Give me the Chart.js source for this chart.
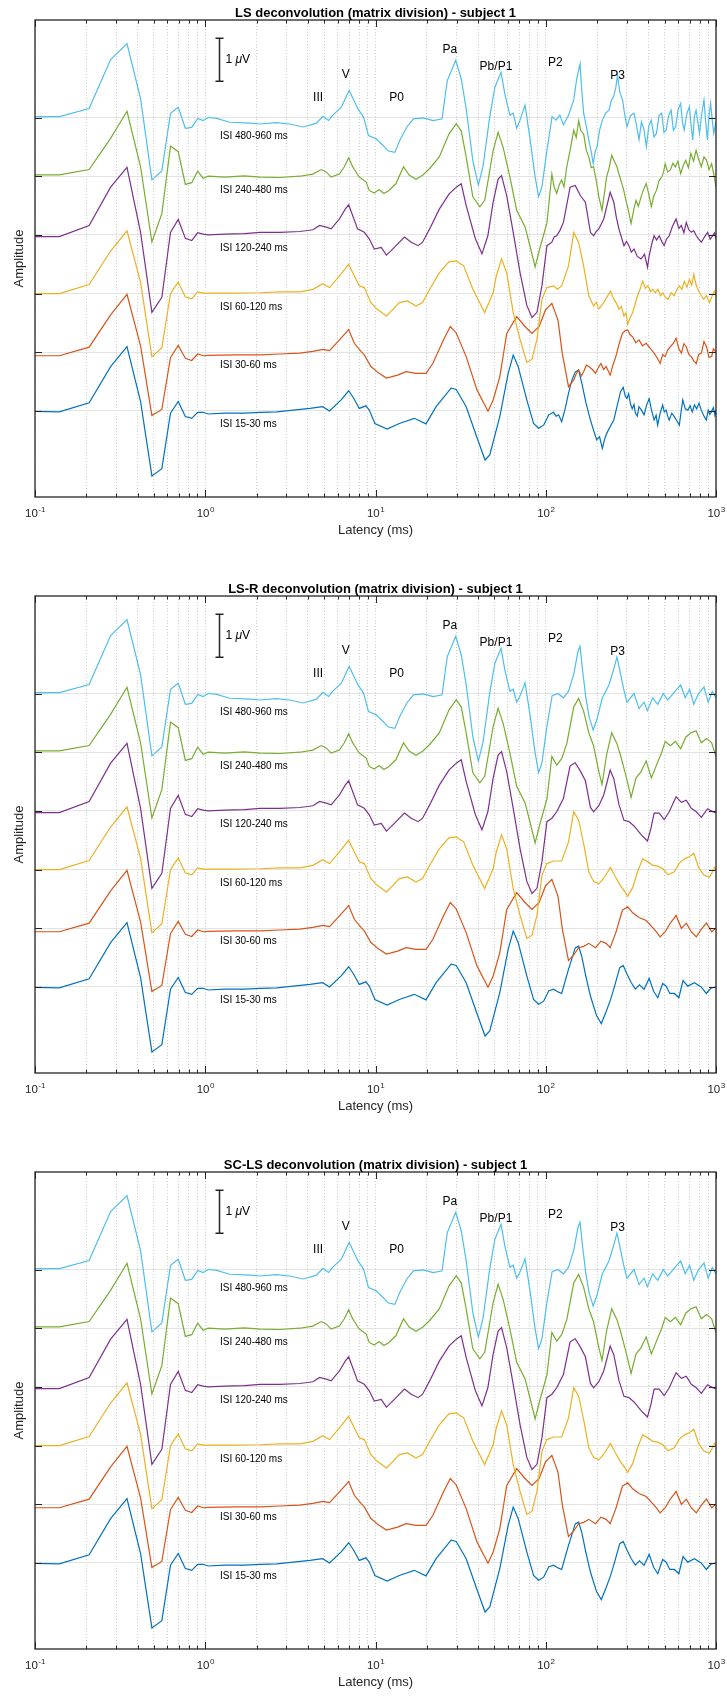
<!DOCTYPE html>
<html>
<head>
<meta charset="utf-8">
<title>Deconvolution AEP, subject 1</title>
<script src="https://cdn.jsdelivr.net/npm/chart.js@4.4.1/dist/chart.umd.min.js"></script>
<style>
  html, body { margin: 0; padding: 0; background: #fff; overflow: hidden; }
  .panel { position: absolute; left: 0; width: 727px; height: 545px; }
</style>
</head>
<body>
<div class="panel" style="top:0"><canvas id="panel1" width="727" height="545"></canvas></div>
<div class="panel" style="top:576px"><canvas id="panel2" width="727" height="545"></canvas></div>
<div class="panel" style="top:1152px"><canvas id="panel3" width="727" height="545"></canvas></div>
<script>
// [latency ms, amplitude uV] per ISI condition, LS deconvolution (noisy late part)
const isi15Ls = [[0.069,0],[0.139,-0.02],[0.208,0.19],[0.278,1.03],[0.347,1.5],[0.417,0.22],[0.486,-1.51],[0.556,-1.34],[0.625,-0.05],[0.694,0.22],[0.764,-0.13],[0.833,-0.17],[0.903,-0.03],[0.972,-0.03],[1.04,-0.07],[1.3,-0.05],[1.7,-0.05],[2.1,-0.03],[2.63,-0.02],[3.28,0.02],[4.12,0.06],[4.9,0.1],[5.37,0],[6.28,0.26],[6.96,0.47],[7.46,0.29],[8.03,0.06],[8.79,0.12],[9.19,0.02],[9.92,-0.29],[11.7,-0.42],[13.8,-0.29],[16.9,-0.17],[19.8,-0.3],[22.7,0.1],[27.8,0.53],[29.8,0.5],[34.1,0.1],[39.3,-0.6],[44,-1.14],[46.9,-1.02],[53.7,-0.13],[60.2,0.88],[64.4,1.3],[68.9,1.03],[77.4,0.26],[84.8,-0.29],[90.8,-0.4],[97.2,-0.33],[104,-0.09],[111,-0.03],[115,-0.12],[119,-0.09],[124,-0.25],[130,0.05],[136,0.41],[142,0.7],[149,0.91],[156,0.95],[163,0.64],[172,0.2],[183,-0.21],[191,-0.45],[199,-0.67],[207,-0.6],[215,-0.87],[222,-0.65],[228,-0.52],[240,-0.35],[251,-0.21],[262,0.1],[275,0.45],[285,0.55],[293,0.35],[300,0.29],[307,0.4],[314,0.18],[322,0.05],[330,0.15],[336,-0.05],[345,-0.12],[353,0.1],[365,0.02],[378,-0.09],[390,0.12],[405,0.29],[418,0.02],[433,-0.21],[445,-0.1],[454,-0.33],[470,-0.05],[486,0.14],[497,-0.02],[510,0.02],[520,-0.12],[531,-0.21],[550,-0.05],[569,-0.13],[588,-0.22],[609,-0.33],[622,-0.05],[638,0.26],[660,0.05],[683,0.02],[705,0.12],[725,-0.02],[747,0.14],[770,0.05],[795,0.18],[819,0.02],[845,-0.1],[877,-0.21],[900,0.02],[920,-0.08],[939,-0.02],[965,0.08],[985,-0.1],[1000,0.02]];
const isi30Ls = [[0.069,-0.08],[0.139,-0.08],[0.208,0.12],[0.278,0.87],[0.347,1.35],[0.417,0.15],[0.486,-1.47],[0.556,-1.33],[0.625,-0.12],[0.694,0.16],[0.764,-0.14],[0.833,-0.19],[0.903,-0.04],[0.972,-0.08],[1.04,-0.07],[1.5,-0.06],[2.1,-0.06],[2.74,-0.04],[3.59,-0.02],[4.29,0.02],[4.9,0.07],[5.37,0.04],[6.14,0.29],[6.96,0.53],[7.51,0.21],[8.22,0.02],[8.59,-0.06],[9.4,-0.33],[10.5,-0.49],[11.6,-0.6],[13.5,-0.53],[15.1,-0.45],[17.3,-0.49],[19.8,-0.49],[21.7,-0.26],[25.1,0.29],[27.5,0.6],[29.8,0.45],[34.1,-0.1],[39.5,-0.88],[45.8,-1.37],[49.1,-1.11],[53.7,-0.57],[59,0.44],[67.5,0.83],[75.6,0.6],[83,0.44],[91.5,0.6],[99.5,0.98],[108.6,1.14],[118,0.75],[125,-0.02],[136,-0.8],[146,-0.64],[151,-0.5],[156,-0.41],[162,-0.55],[167,-0.45],[173,-0.3],[179,-0.33],[188,-0.4],[196,-0.49],[204,-0.35],[211,-0.26],[219,-0.4],[226,-0.33],[239,-0.53],[248,-0.3],[258,-0.1],[270,0.2],[282,0.44],[292,0.5],[303,0.52],[314,0.4],[324,0.36],[338,0.22],[353,0.29],[370,0.15],[389,0.21],[410,0.1],[433,-0.02],[450,-0.12],[470,-0.26],[486,-0.05],[503,-0.1],[520,0.05],[539,0.13],[560,0.2],[583,0.33],[605,0.08],[626,-0.02],[648,0.2],[669,0.13],[692,-0.05],[716,-0.1],[740,-0.2],[766,-0.26],[792,-0.05],[820,-0.02],[850,0.25],[880,0.13],[910,-0.12],[943,-0.1],[965,0.08],[983,0.05],[1000,-0.02]];
const isi60Ls = [[0.069,0],[0.139,0],[0.208,0.21],[0.278,0.99],[0.347,1.46],[0.417,0.26],[0.486,-1.47],[0.556,-1.26],[0.625,0],[0.694,0.27],[0.764,-0.08],[0.833,-0.12],[0.903,0.04],[0.972,0.01],[1.04,0.01],[1.5,0.01],[2.1,0.02],[2.74,0.04],[3.59,0.04],[4.29,0.1],[4.9,0.23],[5.37,0.14],[6.14,0.41],[6.96,0.68],[7.51,0.41],[8.03,0.18],[8.59,0.14],[9.4,-0.21],[10.2,-0.36],[11.6,-0.52],[12.4,-0.4],[13.8,-0.21],[15.4,-0.17],[17.3,-0.29],[18.9,-0.21],[20.8,0.1],[23.7,0.48],[27,0.74],[29.8,0.76],[33,0.64],[37.3,0.1],[43.8,-0.44],[49.1,0.02],[51.2,0.41],[55,0.81],[59,0.48],[64.4,-0.44],[70.6,-1.06],[77.4,-1.6],[83,-1.53],[88.8,-1.06],[95,-0.13],[101.6,0.14],[111,0.18],[117,0.1],[124,0.18],[136,0.64],[146,1.42],[156,1.19],[167,0.64],[179,-0.05],[191,-0.29],[198,-0.2],[205,-0.36],[219,-0.21],[240,0.06],[251,-0.13],[260,-0.22],[269,-0.36],[278,-0.3],[288,-0.52],[296,-0.45],[303,-0.71],[314,-0.55],[324,-0.44],[346,-0.05],[358,0.1],[371,0.29],[385,0.12],[398,0.18],[412,0.05],[425,0.1],[440,0.02],[456,0.1],[472,-0.05],[488,0.02],[505,-0.1],[523,-0.13],[545,0.02],[569,-0.05],[590,0.1],[609,0.18],[630,0.1],[652,0.29],[675,0.15],[698,0.33],[720,0.2],[741,0.45],[765,0.2],[790,0.06],[820,-0.05],[846,-0.13],[880,-0.05],[917,-0.21],[950,-0.05],[983,0.06],[1000,-0.05]];
const isi120Ls = [[0.069,-0.04],[0.139,-0.04],[0.208,0.22],[0.278,1.11],[0.347,1.57],[0.417,0.06],[0.486,-1.8],[0.556,-1.45],[0.625,0.06],[0.694,0.36],[0.764,-0.08],[0.833,-0.13],[0.903,0.05],[0.972,0.02],[1.04,0],[1.3,0.02],[1.7,0.03],[2.1,0.06],[2.74,0.06],[3.59,0.08],[4.29,0.12],[4.69,0.22],[5.13,0.18],[5.49,0.14],[6.14,0.37],[6.64,0.6],[6.96,0.7],[7.34,0.45],[7.85,0.14],[8.59,0.06],[9.19,-0.09],[9.83,-0.33],[10.8,-0.29],[11.6,-0.47],[12.4,-0.36],[13.2,-0.25],[14.8,-0.05],[16.2,-0.17],[17.8,-0.25],[18.9,-0.17],[20.8,0.14],[23.7,0.6],[27,0.95],[29.8,1.11],[31.9,1.19],[34.1,0.68],[38.6,-0.09],[42.2,-0.44],[45.7,-0.02],[49.1,0.76],[52.5,1.3],[55,1.38],[59,0.91],[64.4,0.06],[70.6,-0.87],[77.4,-1.64],[83,-1.92],[88.8,-1.8],[95,-1.18],[101.6,-0.25],[108.6,-0.17],[112,-0.05],[116,-0.02],[121,0.1],[127,0.29],[139,1.11],[149,1.15],[160,0.91],[171,0.76],[177,0.4],[183,0.06],[191,-0.02],[198,0.08],[205,0.14],[219,0.37],[239,0.99],[251,0.76],[260,0.4],[269,0.14],[288,-0.25],[298,-0.15],[308,-0.25],[318,-0.4],[330,-0.33],[345,-0.5],[363,-0.56],[380,-0.45],[396,-0.75],[405,-0.48],[420,-0.2],[433,-0.02],[448,-0.12],[464,-0.02],[480,-0.15],[496,-0.25],[512,-0.1],[531,-0.02],[555,0.2],[583,0.37],[605,0.15],[626,0.22],[648,0.05],[669,0.29],[692,0.12],[716,0.06],[740,0.1],[766,-0.02],[792,-0.1],[820,-0.17],[855,-0.05],[893,0.06],[925,-0.1],[957,-0.02],[980,0.05],[1000,-0.09]];
const isi240Ls = [[0.069,0.03],[0.139,0.03],[0.208,0.155],[0.278,0.88],[0.347,1.51],[0.417,0.22],[0.486,-1.53],[0.556,-0.87],[0.625,0.7],[0.694,0.57],[0.764,-0.19],[0.833,-0.15],[0.903,0.12],[0.972,-0.05],[1.04,0],[1.3,-0.02],[1.7,0.01],[2.1,-0.02],[2.74,-0.03],[3.59,0],[4.29,0.05],[4.79,0.155],[5.13,0.1],[5.49,-0.02],[6.14,0.05],[6.56,0.22],[6.96,0.43],[7.34,0.22],[8.03,-0.02],[8.79,-0.13],[9.19,-0.33],[9.83,-0.39],[10.5,-0.31],[11.2,-0.4],[12,-0.33],[13.2,-0.17],[14.6,0.22],[15.8,0.02],[17.3,-0.07],[18.9,0.02],[20.8,0.18],[23.7,0.45],[27,0.98],[29.8,1.22],[31.9,1.05],[34.1,0.45],[37.3,-0.48],[41,-0.71],[43.8,-0.56],[49.1,0.6],[52.5,1.02],[56.2,0.67],[61.6,-0.02],[67.5,-0.79],[75.6,-1.18],[81,-1.64],[86.6,-2.11],[92.8,-1.64],[101.6,-1.09],[108.6,0.05],[112,-0.25],[116,-0.4],[120,-0.2],[124,-0.09],[128,-0.25],[132.9,0.22],[139,0.6],[146,1.07],[151,0.9],[156,1.29],[161,1.05],[167,0.98],[173,0.6],[179,0.45],[185,0.2],[191,0.22],[198,-0.1],[205,-0.48],[214,-0.79],[221,-0.4],[228,-0.01],[236,0.2],[244,0.49],[253,0.35],[262,0.22],[269,0.05],[276,-0.09],[286,-0.3],[296,-0.56],[306,-0.8],[317,-1.1],[328,-0.8],[339,-0.56],[350,-0.7],[363,-0.48],[376,-0.3],[389,-0.17],[402,-0.4],[417,-0.71],[432,-0.45],[447,-0.33],[463,-0.1],[480,-0.02],[492,0.1],[503,0.29],[520,0.1],[539,0.14],[558,0.3],[578,0.22],[598,0.35],[620,0.06],[642,0.25],[664,0.37],[688,0.2],[712,0.53],[738,0.35],[764,0.6],[790,0.4],[820,0.22],[850,0.45],[880,0.37],[910,0.15],[943,0.29],[970,0.05],[1000,-0.25]];
const isi480Ls = [[0.069,0.02],[0.139,0.02],[0.208,0.21],[0.278,1.35],[0.347,1.72],[0.417,0.44],[0.486,-1.45],[0.556,-1.24],[0.625,0.1],[0.694,0.24],[0.764,-0.25],[0.833,-0.23],[0.903,-0.02],[0.972,-0.07],[1.04,0],[1.17,-0.02],[1.39,-0.11],[1.83,-0.13],[2.1,-0.15],[2.6,-0.12],[3.14,-0.15],[3.77,-0.22],[4.5,-0.13],[4.9,0.03],[5.3,-0.07],[5.6,0.05],[6.3,0.24],[7,0.63],[7.4,0.43],[7.9,0.2],[8.5,0.01],[9.1,-0.42],[10.1,-0.5],[11.1,-0.65],[11.9,-0.78],[13,-0.81],[13.9,-0.53],[15.3,-0.22],[16.7,-0.03],[19,-0.01],[21.8,-0.07],[24.6,-0.03],[26.4,0.86],[29.6,1.33],[31.9,0.9],[34.1,0.2],[37.3,-1],[40.2,-1.57],[42.8,-1.14],[46.9,0.02],[50.2,0.7],[54.6,1.05],[57.5,0.55],[61.6,0.05],[64.4,0.1],[67.5,-0.25],[70.6,-0.06],[75.6,0.29],[81,-0.52],[86.6,-1.38],[90.8,-1.84],[95,-1.61],[101.6,-0.76],[109,0.02],[115,-0.06],[121,0.06],[127,-0.17],[136,0.05],[146,0.41],[152,0.9],[159,1.25],[163,0.6],[167,0.1],[173,-0.2],[179,-0.52],[185,-0.8],[190,-1.07],[195,-0.8],[200,-0.68],[207,-0.3],[215,-0.06],[225,0.1],[235,0.17],[243,0.4],[251,0.5],[258,0.7],[264,0.98],[272,0.6],[283,0.4],[290,0.1],[300,-0.21],[315,0.05],[330,0.1],[342,-0.2],[353,-0.52],[365,-0.1],[378,-0.29],[390,-0.68],[403,-0.2],[417,-0.06],[432,-0.45],[447,-0.37],[463,0.05],[480,0.1],[495,-0.35],[510,-0.29],[527,0.05],[545,0.17],[562,-0.3],[580,-0.21],[600,0.2],[620,0.33],[635,-0.1],[650,-0.29],[675,0.1],[698,0.25],[715,-0.2],[730,-0.52],[748,0.05],[764,0.17],[782,-0.1],[800,-0.37],[825,0.1],[850,0.41],[870,-0.1],[890,-0.52],[910,0.05],[930,0.33],[950,-0.05],[970,-0.37],[1000,-0.1]];

// LS-R / SC-LS solutions: same early response, smooth late part
const isi15Reg = [[0.069,0],[0.139,-0.02],[0.208,0.19],[0.278,1.03],[0.347,1.5],[0.417,0.22],[0.486,-1.51],[0.556,-1.34],[0.625,-0.05],[0.694,0.22],[0.764,-0.13],[0.833,-0.17],[0.903,-0.03],[0.972,-0.03],[1.04,-0.07],[1.3,-0.05],[1.7,-0.05],[2.1,-0.03],[2.63,-0.02],[3.28,0.02],[4.12,0.06],[4.9,0.1],[5.37,0],[6.28,0.26],[6.96,0.47],[7.46,0.29],[8.03,0.06],[8.79,0.12],[9.19,0.02],[9.92,-0.29],[11.7,-0.42],[13.8,-0.29],[16.9,-0.17],[19.8,-0.3],[22.7,0.1],[27.8,0.53],[29.8,0.5],[34.1,0.1],[39.3,-0.6],[44,-1.14],[46.9,-1.02],[53.7,-0.13],[60.2,0.88],[64.4,1.3],[68.9,1.03],[77.4,0.26],[84.8,-0.29],[90.8,-0.4],[97.2,-0.33],[104,-0.09],[111,-0.05],[119,-0.12],[124,-0.15],[136,0.41],[149,0.91],[156,0.95],[163,0.7],[172,0.25],[183,-0.21],[199,-0.67],[212,-0.85],[225,-0.6],[240,-0.3],[255,0.05],[272,0.45],[285,0.5],[300,0.3],[318,0.1],[336,-0.05],[355,0.05],[378,-0.05],[405,0.2],[430,-0.1],[455,-0.25],[486,0.08],[510,0.02],[535,-0.15],[570,-0.15],[605,-0.25],[640,0.15],[683,0.02],[747,0.1],[819,0],[877,-0.15],[939,-0.02],[1000,0]];
const isi30Reg = [[0.069,-0.08],[0.139,-0.08],[0.208,0.12],[0.278,0.87],[0.347,1.35],[0.417,0.15],[0.486,-1.47],[0.556,-1.33],[0.625,-0.12],[0.694,0.16],[0.764,-0.14],[0.833,-0.19],[0.903,-0.04],[0.972,-0.08],[1.04,-0.07],[1.5,-0.06],[2.1,-0.06],[2.74,-0.04],[3.59,-0.02],[4.29,0.02],[4.9,0.07],[5.37,0.04],[6.14,0.29],[6.96,0.53],[7.51,0.21],[8.22,0.02],[8.59,-0.06],[9.4,-0.33],[10.5,-0.49],[11.6,-0.6],[13.5,-0.53],[15.1,-0.45],[17.3,-0.49],[19.8,-0.49],[21.7,-0.26],[25.1,0.29],[27.5,0.6],[29.8,0.45],[34.1,-0.1],[39.5,-0.88],[45.8,-1.37],[49.1,-1.11],[53.7,-0.57],[59,0.44],[67.5,0.83],[75.6,0.6],[83,0.44],[91.5,0.6],[99.5,0.98],[108.6,1.14],[118,0.75],[125,0],[136,-0.75],[146,-0.62],[156,-0.45],[167,-0.42],[179,-0.35],[196,-0.45],[211,-0.3],[226,-0.35],[239,-0.45],[258,-0.1],[282,0.42],[303,0.5],[324,0.36],[353,0.25],[389,0.18],[433,-0.02],[470,-0.2],[503,-0.08],[539,0.12],[583,0.3],[626,0],[669,0.12],[716,-0.08],[766,-0.2],[820,-0.02],[880,0.12],[943,-0.08],[1000,0]];
const isi60Reg = [[0.069,0],[0.139,0],[0.208,0.21],[0.278,0.99],[0.347,1.46],[0.417,0.26],[0.486,-1.47],[0.556,-1.26],[0.625,0],[0.694,0.27],[0.764,-0.08],[0.833,-0.12],[0.903,0.04],[0.972,0.01],[1.04,0.01],[1.5,0.01],[2.1,0.02],[2.74,0.04],[3.59,0.04],[4.29,0.1],[4.9,0.23],[5.37,0.14],[6.14,0.41],[6.96,0.68],[7.51,0.41],[8.03,0.18],[8.59,0.14],[9.4,-0.21],[10.2,-0.36],[11.6,-0.52],[12.4,-0.4],[13.8,-0.21],[15.4,-0.17],[17.3,-0.29],[18.9,-0.21],[20.8,0.1],[23.7,0.48],[27,0.74],[29.8,0.76],[33,0.64],[37.3,0.1],[43.8,-0.44],[49.1,0.02],[51.2,0.41],[55,0.81],[59,0.48],[64.4,-0.44],[70.6,-1.06],[77.4,-1.6],[83,-1.53],[88.8,-1.06],[95,-0.13],[101.6,0.14],[111,0.2],[124,0.2],[136,0.64],[146,1.35],[156,1.15],[167,0.6],[179,-0.05],[191,-0.28],[205,-0.33],[219,-0.2],[240,0.05],[255,-0.15],[272,-0.35],[290,-0.5],[303,-0.62],[324,-0.42],[346,-0.05],[371,0.25],[398,0.18],[425,0.1],[456,0.08],[488,0.02],[523,-0.12],[569,-0.05],[609,0.15],[652,0.25],[698,0.3],[741,0.38],[790,0.05],[846,-0.12],[917,-0.18],[983,0.05],[1000,0]];
const isi120Reg = [[0.069,-0.04],[0.139,-0.04],[0.208,0.22],[0.278,1.11],[0.347,1.57],[0.417,0.06],[0.486,-1.8],[0.556,-1.45],[0.625,0.06],[0.694,0.36],[0.764,-0.08],[0.833,-0.13],[0.903,0.05],[0.972,0.02],[1.04,0],[1.3,0.02],[1.7,0.03],[2.1,0.06],[2.74,0.06],[3.59,0.08],[4.29,0.12],[4.69,0.22],[5.13,0.18],[5.49,0.14],[6.14,0.37],[6.64,0.6],[6.96,0.7],[7.34,0.45],[7.85,0.14],[8.59,0.06],[9.19,-0.09],[9.83,-0.33],[10.8,-0.29],[11.6,-0.47],[12.4,-0.36],[13.2,-0.25],[14.8,-0.05],[16.2,-0.17],[17.8,-0.25],[18.9,-0.17],[20.8,0.14],[23.7,0.6],[27,0.95],[29.8,1.11],[31.9,1.19],[34.1,0.68],[38.6,-0.09],[42.2,-0.44],[45.7,-0.02],[49.1,0.76],[52.5,1.3],[55,1.38],[59,0.91],[64.4,0.06],[70.6,-0.87],[77.4,-1.64],[83,-1.92],[88.8,-1.8],[95,-1.18],[101.6,-0.25],[108.6,-0.17],[116,-0.02],[127,0.29],[139,1.05],[149,1.12],[160,0.92],[171,0.7],[183,0.08],[191,-0.02],[205,0.12],[219,0.37],[239,0.95],[251,0.75],[269,0.15],[288,-0.22],[308,-0.25],[330,-0.35],[363,-0.55],[396,-0.7],[415,-0.4],[433,-0.05],[464,-0.05],[496,-0.2],[531,-0.02],[583,0.33],[626,0.2],[669,0.25],[716,0.06],[766,-0.02],[820,-0.15],[893,0.05],[957,-0.02],[1000,-0.05]];
const isi240Reg = [[0.069,0.03],[0.139,0.03],[0.208,0.155],[0.278,0.88],[0.347,1.51],[0.417,0.22],[0.486,-1.53],[0.556,-0.87],[0.625,0.7],[0.694,0.57],[0.764,-0.19],[0.833,-0.15],[0.903,0.12],[0.972,-0.05],[1.04,0],[1.3,-0.02],[1.7,0.01],[2.1,-0.02],[2.74,-0.03],[3.59,0],[4.29,0.05],[4.79,0.155],[5.13,0.1],[5.49,-0.02],[6.14,0.05],[6.56,0.22],[6.96,0.43],[7.34,0.22],[8.03,-0.02],[8.79,-0.13],[9.19,-0.33],[9.83,-0.39],[10.5,-0.31],[11.2,-0.4],[12,-0.33],[13.2,-0.17],[14.6,0.22],[15.8,0.02],[17.3,-0.07],[18.9,0.02],[20.8,0.18],[23.7,0.45],[27,0.98],[29.8,1.22],[31.9,1.05],[34.1,0.45],[37.3,-0.48],[41,-0.71],[43.8,-0.56],[49.1,0.6],[52.5,1.02],[56.2,0.67],[61.6,-0.02],[67.5,-0.79],[75.6,-1.18],[81,-1.64],[86.6,-2.11],[92.8,-1.64],[101.6,-1.09],[108.6,-0.1],[116,-0.3],[124,-0.15],[132.9,0.2],[146,1.05],[156,1.25],[167,0.95],[179,0.45],[191,0.15],[205,-0.45],[214,-0.75],[228,-0.05],[244,0.45],[262,0.2],[276,-0.1],[296,-0.55],[317,-1.05],[339,-0.6],[363,-0.45],[389,-0.2],[417,-0.6],[447,-0.3],[480,0],[503,0.25],[539,0.15],[578,0.25],[620,0.08],[664,0.35],[712,0.45],[764,0.5],[820,0.22],[880,0.32],[943,0.22],[1000,-0.1]];
const isi480Reg = [[0.069,0.02],[0.139,0.02],[0.208,0.21],[0.278,1.35],[0.347,1.72],[0.417,0.44],[0.486,-1.45],[0.556,-1.24],[0.625,0.1],[0.694,0.24],[0.764,-0.25],[0.833,-0.23],[0.903,-0.02],[0.972,-0.07],[1.04,0],[1.17,-0.02],[1.39,-0.11],[1.83,-0.13],[2.1,-0.15],[2.6,-0.12],[3.14,-0.15],[3.77,-0.22],[4.5,-0.13],[4.9,0.03],[5.3,-0.07],[5.6,0.05],[6.3,0.24],[7,0.63],[7.4,0.43],[7.9,0.2],[8.5,0.01],[9.1,-0.42],[10.1,-0.5],[11.1,-0.65],[11.9,-0.78],[13,-0.81],[13.9,-0.53],[15.3,-0.22],[16.7,-0.03],[19,-0.01],[21.8,-0.07],[24.6,-0.03],[26.4,0.86],[29.6,1.33],[31.9,0.9],[34.1,0.2],[37.3,-1],[40.2,-1.57],[42.8,-1.14],[46.9,0.02],[50.2,0.7],[54.6,1.05],[57.5,0.55],[61.6,0.05],[64.4,0.1],[67.5,-0.2],[70.6,-0.06],[75.6,0.25],[81,-0.52],[86.6,-1.38],[90.8,-1.84],[95,-1.61],[101.6,-0.76],[109,-0.05],[118,0],[127,-0.1],[136,0.05],[146,0.45],[155,1.0],[159,1.1],[165,0.5],[172,-0.1],[180,-0.55],[190,-0.85],[200,-0.6],[215,-0.1],[235,0.2],[250,0.55],[262,0.85],[272,0.55],[285,0.15],[300,-0.2],[330,0],[353,-0.35],[378,-0.2],[395,-0.4],[425,-0.1],[455,-0.25],[490,0],[520,-0.15],[560,0],[620,0.2],[660,-0.1],[700,0.1],[740,-0.25],[790,0],[850,0.15],[900,-0.2],[950,0.05],[1000,-0.1]];

const isiLabels = ["ISI 15-30 ms", "ISI 30-60 ms", "ISI 60-120 ms", "ISI 120-240 ms", "ISI 240-480 ms", "ISI 480-960 ms"];
const traceColors = ["#0072BD", "#D95319", "#EDB120", "#7E2F8E", "#77AC30", "#4DBEEE"];
const latencyTicks = [0.1,0.2,0.3,0.4,0.5,0.6,0.7,0.8,0.9,1,2,3,4,5,6,7,8,9,10,20,30,40,50,60,70,80,90,100,200,300,400,500,600,700,800,900,1000];
const decadeExponents = [-1, 0, 1, 2, 3];
const panelTitles = [
  "LS deconvolution (matrix division) - subject 1",
  "LS-R deconvolution (matrix division) - subject 1",
  "SC-LS deconvolution (matrix division) - subject 1"
];
const peakNames = ["III", "V", "P0", "Pa", "Pb/P1", "P2", "P3"];
const peakLatency = [4.6, 6.68, 13.3, 27.3, 51, 114, 264];
const peakLevel = [7.29, 7.81, 7.29, 8.4, 8.01, 8.09, 7.79];

const traceOffset = 1.365;   // uV between stacked waveforms
const yMin = -2.0, yMax = 9.093;
const scaleBarMs = 1.205, scaleBarLow = 7.67; // 1 uV bar
const isiLabelMs = 1.22;
const isiLabelDrop = [0.3, 0.31, 0.31, 0.3, 0.32, 0.44];

const FONT = '"Liberation Sans", Arial, Helvetica, sans-serif';
const AXIS_COLOR = "#262626";

function makeDatasets(traces) {
  return traces.map((pts, i) => ({
    data: pts.map(p => ({ x: p[0], y: p[1] + i * traceOffset })),
    borderColor: traceColors[i],
    borderWidth: 1.2,
    pointRadius: 0,
    tension: 0,
    fill: false,
    order: traces.length - i,
  }));
}

// axes box, inward ticks, labels and annotations, MATLAB style
const panelDecor = {
  id: "panelDecor",
  afterDraw(chart, args, opts) {
    const ctx = chart.ctx;
    const a = chart.chartArea;
    const xs = chart.scales.x;
    const ys = chart.scales.y;
    ctx.save();

    ctx.strokeStyle = AXIS_COLOR;
    ctx.lineWidth = 1.3;
    ctx.strokeRect(a.left, a.top, a.right - a.left, a.bottom - a.top);

    ctx.lineWidth = 1;
    ctx.beginPath();
    latencyTicks.forEach(v => {
      const x = Math.round(xs.getPixelForValue(v)) + 0.5;
      const lg = Math.log10(v);
      const len = Math.abs(lg - Math.round(lg)) < 1e-9 ? 7 : 3.5;
      ctx.moveTo(x, a.bottom); ctx.lineTo(x, a.bottom - len);
      ctx.moveTo(x, a.top); ctx.lineTo(x, a.top + len);
    });
    for (let i = 0; i < 6; i++) {
      const y = Math.round(ys.getPixelForValue(i * traceOffset)) + 0.5;
      ctx.moveTo(a.left, y); ctx.lineTo(a.left + 7, y);
      ctx.moveTo(a.right, y); ctx.lineTo(a.right - 7, y);
    }
    ctx.stroke();

    // decade tick labels 10^n
    ctx.fillStyle = AXIS_COLOR;
    ctx.textBaseline = "alphabetic";
    ctx.textAlign = "left";
    decadeExponents.forEach(n => {
      const x = xs.getPixelForValue(Math.pow(10, n));
      const exp = String(n);
      ctx.font = "11.5px " + FONT;
      const wBase = ctx.measureText("10").width;
      ctx.font = "8px " + FONT;
      const wExp = ctx.measureText(exp).width;
      const x0 = x - (wBase + wExp) / 2;
      ctx.font = "11.5px " + FONT;
      ctx.fillText("10", x0, a.bottom + 20);
      ctx.font = "8px " + FONT;
      ctx.fillText(exp, x0 + wBase + 0.5, a.bottom + 15);
    });

    ctx.textAlign = "center";
    ctx.textBaseline = "middle";
    ctx.font = "13px " + FONT;
    ctx.fillText("Latency (ms)", (a.left + a.right) / 2, a.bottom + 33);
    ctx.save();
    ctx.translate(19, (a.top + a.bottom) / 2);
    ctx.rotate(-Math.PI / 2);
    ctx.fillText("Amplitude", 0, 0);
    ctx.restore();

    ctx.fillStyle = "#000";
    ctx.font = "bold 13px " + FONT;
    ctx.fillText(opts.title, (a.left + a.right) / 2, a.top - 7);

    // peak names
    ctx.font = "12px " + FONT;
    peakNames.forEach((name, i) => {
      ctx.fillText(name, xs.getPixelForValue(peakLatency[i]), ys.getPixelForValue(peakLevel[i]));
    });

    // ISI condition labels
    ctx.textAlign = "left";
    ctx.font = "10px " + FONT;
    isiLabels.forEach((lab, i) => {
      ctx.fillText(lab, xs.getPixelForValue(isiLabelMs), ys.getPixelForValue(i * traceOffset - isiLabelDrop[i]));
    });

    // 1 uV scale bar
    const bx = Math.round(xs.getPixelForValue(scaleBarMs)) + 0.5;
    const by0 = ys.getPixelForValue(scaleBarLow);
    const by1 = ys.getPixelForValue(scaleBarLow + 1);
    ctx.strokeStyle = AXIS_COLOR;
    ctx.lineWidth = 1.5;
    ctx.beginPath();
    ctx.moveTo(bx, by0); ctx.lineTo(bx, by1);
    ctx.moveTo(bx - 4, by0); ctx.lineTo(bx + 4, by0);
    ctx.moveTo(bx - 4, by1); ctx.lineTo(bx + 4, by1);
    ctx.stroke();
    const ty = (by0 + by1) / 2;
    ctx.fillStyle = "#000";
    ctx.font = "12px " + FONT;
    let tx = bx + 6;
    ctx.fillText("1 ", tx, ty);
    tx += ctx.measureText("1 ").width;
    ctx.font = "italic 12px " + FONT;
    ctx.fillText("\u03bc", tx, ty);
    tx += ctx.measureText("\u03bc").width;
    ctx.font = "12px " + FONT;
    ctx.fillText("V", tx, ty);

    ctx.restore();
  }
};

function drawPanel(canvasId, traces, title) {
  const ctx = document.getElementById(canvasId).getContext("2d");
  return new Chart(ctx, {
    type: "line",
    data: { datasets: makeDatasets(traces) },
    options: {
      responsive: false,
      animation: false,
      devicePixelRatio: 1,
      events: [],
      layout: { padding: { top: 20, right: 11, left: 0, bottom: 0 } },
      plugins: {
        legend: { display: false },
        tooltip: { enabled: false },
        title: { display: false },
        panelDecor: { title: title },
      },
      scales: {
        x: {
          type: "logarithmic",
          min: 0.1,
          max: 1000,
          afterBuildTicks: s => { s.ticks = latencyTicks.map(v => ({ value: v })); },
          afterFit: s => { s.height = 48; },
          ticks: { display: false },
          grid: { color: "#cfcfcf", lineWidth: 1, drawTicks: false },
          border: { display: false, dash: [1, 2] },
        },
        y: {
          min: yMin,
          max: yMax,
          afterBuildTicks: s => { s.ticks = [0, 1, 2, 3, 4, 5].map(i => ({ value: i * traceOffset })); },
          afterFit: s => { s.width = 35; },
          ticks: { display: false },
          grid: { color: "#e3e3e3", lineWidth: 1, drawTicks: false },
          border: { display: false },
        },
      },
    },
    plugins: [panelDecor],
  });
}

drawPanel("panel1", [isi15Ls, isi30Ls, isi60Ls, isi120Ls, isi240Ls, isi480Ls], panelTitles[0]);
drawPanel("panel2", [isi15Reg, isi30Reg, isi60Reg, isi120Reg, isi240Reg, isi480Reg], panelTitles[1]);
drawPanel("panel3", [isi15Reg, isi30Reg, isi60Reg, isi120Reg, isi240Reg, isi480Reg], panelTitles[2]);
</script>
</body>
</html>
